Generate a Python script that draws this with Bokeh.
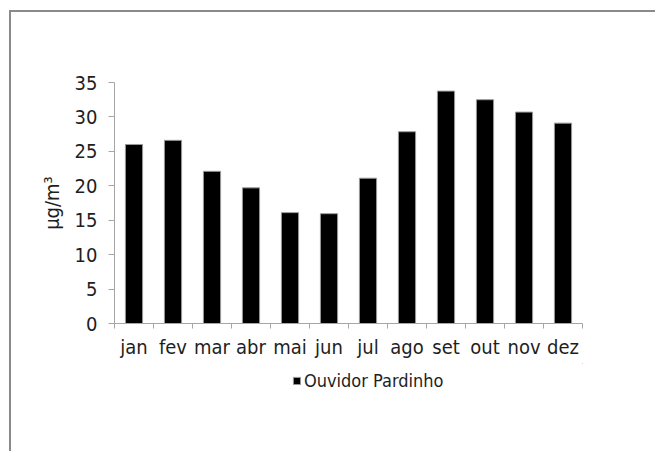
from bokeh.plotting import figure
from bokeh.layouts import column
from bokeh.models import Range1d, FixedTicker, Legend, LegendItem, ColumnDataSource
from bokeh.embed import file_html
from bokeh.resources import INLINE

months = ["jan", "fev", "mar", "abr", "mai", "jun", "jul", "ago", "set", "out", "nov", "dez"]
values = [26.0, 26.6, 22.1, 19.7, 16.1, 15.95, 21.1, 27.85, 33.75, 32.5, 30.7, 29.1]
y_ticks = [0, 5, 10, 15, 20, 25, 30, 35]
series_name = "Ouvidor Pardinho"
y_title = "μg/m³"

FONT = "DejaVu Sans Condensed, Roboto, sans-serif"
TXT = "#1e1e1e"
AXC = "#a6a6a6"
BAR_FILL = "black"
BAR_LINE = "#9a9a9a"

n = len(months)
xpos = [i + 0.5 for i in range(n)]
src = ColumnDataSource(dict(x=xpos, top=values, month=months))

p = figure(frame_width=468, frame_height=241, output_backend="svg", toolbar_location=None,
           x_range=Range1d(0, n), y_range=Range1d(0, y_ticks[-1]),
           min_border_left=103, min_border_right=73, min_border_top=70, min_border_bottom=40)
p.grid.visible = False
p.outline_line_color = None

r = p.vbar(x="x", top="top", width=0.44, source=src, fill_color=BAR_FILL,
           line_color=BAR_LINE, line_width=1)

# x axis: labels at centers, tick marks at category boundaries
p.xaxis.ticker = FixedTicker(ticks=xpos, minor_ticks=list(range(n + 1)))
p.xaxis.major_label_overrides = {x: m for x, m in zip(xpos, months)}
p.xaxis.major_tick_out = 0
p.xaxis.major_tick_in = 0
p.xaxis.minor_tick_out = 5
p.xaxis.minor_tick_in = 0
p.xaxis.major_label_standoff = 6

p.yaxis.ticker = FixedTicker(ticks=y_ticks, minor_ticks=[])
p.yaxis.major_tick_out = 6
p.yaxis.major_tick_in = 0
p.yaxis.minor_tick_out = 0
p.yaxis.major_label_standoff = 11
p.yaxis.axis_label = y_title
p.yaxis.axis_label_standoff = 8
p.yaxis.axis_label_text_font_style = "normal"
p.yaxis.axis_label_text_font_size = "20px"
p.yaxis.axis_label_text_font = FONT
p.yaxis.axis_label_text_color = TXT

for ax in (p.xaxis, p.yaxis):
    ax.axis_line_color = AXC
    ax.major_tick_line_color = AXC
    ax.minor_tick_line_color = AXC
    ax.major_label_text_font = FONT
    ax.major_label_text_font_size = "20px"
    ax.major_label_text_color = TXT

# legend strip below the chart (its dummy bar sits outside the visible range)
p2 = figure(width=644, height=90, output_backend="svg", toolbar_location=None,
            x_range=Range1d(0, 1), y_range=Range1d(0, 1),
            x_axis_location=None, y_axis_location=None, min_border=0)
p2.grid.visible = False
p2.outline_line_color = None
r2 = p2.vbar(x=[5], top=[5], bottom=[4], width=0.1, fill_color=BAR_FILL,
             line_color=BAR_LINE, line_width=1)
legend = Legend(items=[LegendItem(label=series_name, renderers=[r2])],
                location=(178, 62), orientation="horizontal",
                border_line_color=None, background_fill_alpha=0,
                padding=0, margin=0, glyph_width=9, glyph_height=9,
                label_standoff=3, label_text_font=FONT,
                label_text_font_size="18px", label_text_color=TXT)
p2.add_layout(legend)

layout = column(p, p2, spacing=0,
                styles={"border-top": "2px solid #8a8a8a", "border-left": "2px solid #8a8a8a",
                        "margin-left": "9px", "margin-top": "10px"})

open("out.html", "w").write(file_html(layout, INLINE))
